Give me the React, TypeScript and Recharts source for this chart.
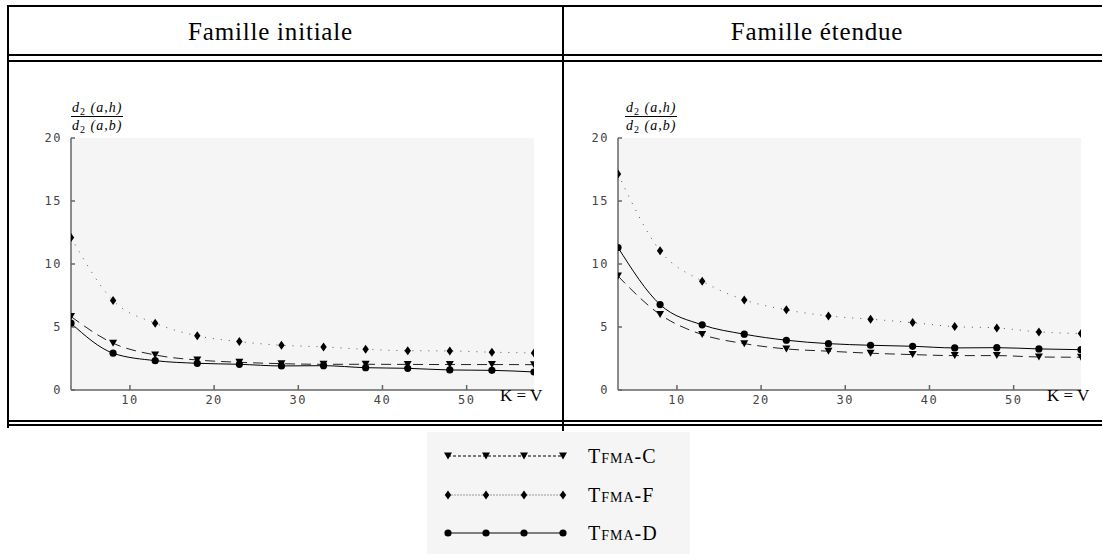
import { LineChart, Line, XAxis, YAxis, CartesianGrid } from "recharts";

// K = V values, same for both families
const kValues = [3, 8, 13, 18, 23, 28, 33, 38, 43, 48, 53, 58];

// Famille initiale
const initialC = [5.83, 3.71, 2.78, 2.38, 2.2, 2.09, 2.04, 2.04, 2.03, 2.02, 2.02, 2.01];
const initialF = [12.1, 7.1, 5.3, 4.3, 3.84, 3.55, 3.42, 3.23, 3.12, 3.1, 3.0, 2.94];
const initialD = [5.3, 2.92, 2.33, 2.12, 2.04, 1.91, 1.93, 1.77, 1.72, 1.59, 1.56, 1.43];

// Famille étendue
const extendedC = [9.04, 5.99, 4.4, 3.68, 3.26, 3.08, 2.92, 2.81, 2.73, 2.73, 2.62, 2.6];
const extendedF = [17.15, 11.05, 8.64, 7.15, 6.36, 5.88, 5.62, 5.35, 5.03, 4.93, 4.61, 4.48];
const extendedD = [11.31, 6.78, 5.17, 4.43, 3.95, 3.68, 3.55, 3.47, 3.34, 3.36, 3.26, 3.2];

const xTicks = [10, 20, 30, 40, 50];
const yTicks = [0, 5, 10, 15, 20];
const titles = ["Famille initiale", "Famille étendue"];
const legendNames = ["Tfma-C", "Tfma-F", "Tfma-D"];

const serif = "'Liberation Serif', 'DejaVu Serif', serif";
const mono = "'DejaVu Sans Mono', monospace";

const triangle = (cx: number, cy: number, key?: any) => (
  <path key={key} d={`M${cx - 4},${cy - 3.5} L${cx + 4},${cy - 3.5} L${cx},${cy + 3.5} Z`} fill="#000" />
);
const diamond = (cx: number, cy: number, key?: any) => (
  <path key={key} d={`M${cx},${cy - 4.5} L${cx + 3.2},${cy} L${cx},${cy + 4.5} L${cx - 3.2},${cy} Z`} fill="#000" />
);
const circle = (cx: number, cy: number, key?: any) => <circle key={key} cx={cx} cy={cy} r={3.6} fill="#000" />;

const dotOf = (shape: (cx: number, cy: number, key?: any) => any) => (p: any) => {
  if (p.cx == null || p.cy == null) return <g key={p.index} />;
  return shape(p.cx, p.cy, p.index);
};

function Panel({ c, f, d, left }: { c: number[]; f: number[]; d: number[]; left: number }) {
  const data = kValues.map((k, i) => ({ k, c: c[i], f: f[i], d: d[i] }));
  const tick = { fontFamily: mono, fontSize: 12, fill: "#444", letterSpacing: 1.5 };
  return (
    <div style={{ position: "absolute", left, top: 0 }}>
      <LineChart width={560} height={440} data={data} margin={{ top: 138, right: 26, bottom: 20, left: 41 }}>
        <CartesianGrid fill="#f5f5f5" horizontal={false} vertical={false} />
        <XAxis
          type="number"
          dataKey="k"
          domain={[3, 58]}
          ticks={xTicks}
          allowDataOverflow
          height={30}
          stroke="#666"
          strokeWidth={1.5}
          tickSize={-5}
          tickMargin={10}
          tick={tick}
        />
        <YAxis
          type="number"
          domain={[0, 20]}
          ticks={yTicks}
          width={30}
          stroke="#666"
          strokeWidth={1.5}
          tickSize={-4}
          tickMargin={13}
          tick={tick}
        />
        <Line
          dataKey="f"
          type="monotone"
          stroke="#555"
          strokeWidth={1}
          strokeDasharray="1 7"
          dot={dotOf(diamond)}
          isAnimationActive={false}
        />
        <Line
          dataKey="c"
          type="monotone"
          stroke="#222"
          strokeWidth={1}
          strokeDasharray="10 6"
          dot={dotOf(triangle)}
          isAnimationActive={false}
        />
        <Line
          dataKey="d"
          type="monotone"
          stroke="#000"
          strokeWidth={1}
          dot={dotOf(circle)}
          isAnimationActive={false}
        />
      </LineChart>
    </div>
  );
}

function Fraction({ left }: { left: number }) {
  const part = (v: string) => (
    <span style={{ fontFamily: serif, fontStyle: "italic", fontSize: 14, letterSpacing: 1, whiteSpace: "nowrap" }}>
      d<sub style={{ fontSize: 10, fontStyle: "normal", verticalAlign: "-3px" }}>2</sub>&nbsp;(a,{v})
    </span>
  );
  return (
    <div style={{ position: "absolute", left, top: 99, textAlign: "center", color: "#000", lineHeight: "16px" }}>
      <div style={{ padding: "0 1px", height: 17 }}>{part("h")}</div>
      <div style={{ borderTop: "1.5px solid #000", padding: "0 1px" }}>{part("b")}</div>
    </div>
  );
}

function Legend() {
  const xs = [448, 486, 524, 563];
  const rows = [
    { y: 456, shape: triangle, stroke: "#000", dash: "3 2", w: 1 },
    { y: 495, shape: diamond, stroke: "#999", dash: "2 1", w: 1 },
    { y: 533, shape: circle, stroke: "#555", dash: undefined, w: 1.5 },
  ];
  return (
    <>
      <div style={{ position: "absolute", left: 427, top: 432, width: 263, height: 122, background: "#f5f5f5" }} />
      <svg style={{ position: "absolute", left: 0, top: 0 }} width={1102} height={554}>
        {rows.map((r, i) => (
          <g key={i}>
            <line x1={xs[0]} x2={xs[3]} y1={r.y} y2={r.y} stroke={r.stroke} strokeWidth={r.w} strokeDasharray={r.dash} />
            {xs.map((x, j) => r.shape(x, r.y, j))}
            <text
              x={588}
              y={r.y + 7}
              fontFamily={serif}
              fontSize={20}
              letterSpacing={1}
              style={{ fontVariant: "small-caps" }}
            >
              {legendNames[i]}
            </text>
          </g>
        ))}
      </svg>
    </>
  );
}

export default function App() {
  const bar = (l: number, t: number, w: number, h: number) => (
    <div style={{ position: "absolute", left: l, top: t, width: w, height: h, background: "#000" }} />
  );
  const titleStyle = {
    position: "absolute" as const,
    top: 18,
    textAlign: "center" as const,
    fontFamily: serif,
    fontSize: 25,
    letterSpacing: 0.8,
  };
  return (
    <div style={{ position: "absolute", left: 0, top: 0, width: 1102, height: 554, background: "#fff", overflow: "hidden" }}>
      {/* table frame */}
      {bar(7, 5, 1095, 2)}
      {bar(7, 54, 1095, 2)}
      {bar(7, 60, 1095, 2)}
      {bar(7, 420, 1095, 2)}
      {bar(7, 424, 1095, 2)}
      {bar(7, 5, 2, 423)}
      {bar(562, 5, 2, 426)}

      <div style={{ ...titleStyle, left: 9, width: 523 }}>{titles[0]}</div>
      <div style={{ ...titleStyle, left: 564, width: 506 }}>{titles[1]}</div>

      <Panel c={initialC} f={initialF} d={initialD} left={0} />
      <Panel c={extendedC} f={extendedF} d={extendedD} left={547} />

      <Fraction left={71} />
      <Fraction left={625} />

      <div style={{ position: "absolute", left: 500, top: 386, fontFamily: serif, fontSize: 17 }}>K = V</div>
      <div style={{ position: "absolute", left: 1047, top: 386, fontFamily: serif, fontSize: 17 }}>K = V</div>

      <Legend />
    </div>
  );
}
